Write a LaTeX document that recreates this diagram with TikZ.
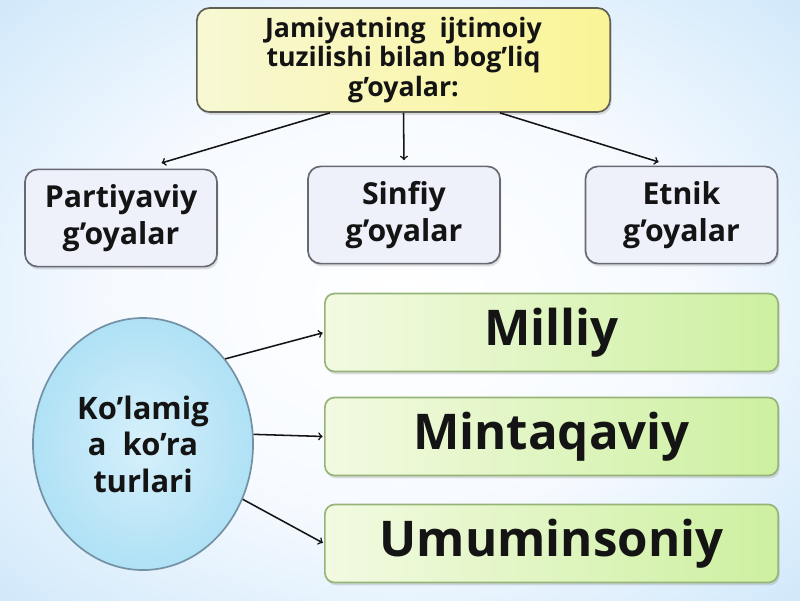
\documentclass[tikz,border=0pt]{standalone}
\usepackage{fontspec}
\setmainfont{Open Sans}
\usetikzlibrary{shapes.geometric,shadows}

\definecolor{bgWhite}{RGB}{246,250,255}
\definecolor{bgBlue}{RGB}{178,218,246}
\definecolor{bgBlueDeep}{RGB}{150,202,242}
\definecolor{titleLight}{RGB}{248,248,212}
\definecolor{titleDeep}{RGB}{250,244,150}
\definecolor{titleLine}{RGB}{95,95,85}
\definecolor{ideaFill}{RGB}{238,240,250}
\definecolor{ideaLine}{RGB}{105,105,115}
\definecolor{circleLight}{RGB}{215,240,251}
\definecolor{circleDeep}{RGB}{175,225,245}
\definecolor{circleLine}{RGB}{115,145,165}
\definecolor{kindLight}{RGB}{242,250,225}
\definecolor{kindDeep}{RGB}{205,240,160}
\definecolor{kindLine}{RGB}{150,180,120}
\definecolor{inkColor}{RGB}{20,20,20}

\pgfdeclareradialshading{backShade}{\pgfpoint{0bp}{0bp}}{%
  color(0bp)=(white); color(18bp)=(bgWhite); color(50bp)=(bgBlue); color(72bp)=(bgBlueDeep)}

\begin{document}
\begin{tikzpicture}[%%
  x=0.025cm,y=-0.025cm,%%
  titleBox/.style={rectangle,rounded corners=9pt,draw=titleLine,line width=1.2pt,
    left color=titleLight,right color=titleDeep,
    minimum width=10.33cm,minimum height=2.6cm,align=center,text=inkColor,
    font=\fontsize{19}{21}\selectfont\bfseries,
    drop shadow={opacity=0.25,shadow xshift=1pt,shadow yshift=-2pt}},%%
  ideaBox/.style={rectangle,rounded corners=9pt,draw=ideaLine,line width=1.2pt,
    fill=ideaFill,minimum width=4.8cm,minimum height=2.43cm,align=center,
    text=inkColor,font=\fontsize{21.5}{26}\selectfont\bfseries,
    drop shadow={opacity=0.25,shadow xshift=1pt,shadow yshift=-2pt}},%%
  scopeCircle/.style={ellipse,draw=circleLine,line width=1.2pt,
    inner color=circleLight,outer color=circleDeep,
    minimum width=5.5cm,minimum height=6.3cm,align=center,text=inkColor,
    font=\fontsize{22}{26}\selectfont\bfseries},%%
  kindBox/.style={rectangle,rounded corners=7pt,draw=kindLine,line width=1.2pt,
    left color=kindLight,right color=kindDeep,
    minimum width=11.33cm,minimum height=1.95cm,text=inkColor,
    font=\fontsize{35}{40}\selectfont\bfseries,
    drop shadow={opacity=0.25,shadow xshift=1pt,shadow yshift=-2pt}},%%
  arrowStyle/.style={->,line width=1.1pt,draw=inkColor,>=to,shorten >=1pt}
]
%%
%%
%% Background.
\path[shading=backShade] (0,0) rectangle (800,600);
\useasboundingbox (0,0) rectangle (800,600);
%%
%% Title and the three kinds of ideas.
\node[titleBox] (title) at (403.5,60) {Jamiyatning\ \ ijtimoiy\\tuzilishi bilan bog’liq\\g’oyalar:};
\node[ideaBox] (party) at (121,218) {Partiyaviy\\g’oyalar};
\node[ideaBox] (class) at (404,215) {Sinfiy\\g’oyalar};
\node[ideaBox] (ethnic) at (681.5,215) {Etnik\\g’oyalar};
%%
%% Circle and the three scopes.
\node[scopeCircle] (scope) at (143,444) {Ko’lamig\\a\ \ ko’ra\\turlari};
\node[kindBox] (national) at (551.5,332.5) {Milliy};
\node[kindBox] (regional) at (551.5,436.5) {Mintaqaviy};
\node[kindBox] (universal) at (551.5,543.5) {Umuminsoniy};
%%
%% Arrows from the title.
\draw[arrowStyle] ([xshift=-1.84cm]title.south) -- ([xshift=0.98cm,yshift=0.13cm]party.north);
\draw[arrowStyle] (title.south) -- ([yshift=0.1cm]class.north);
\draw[arrowStyle] ([xshift=2.41cm]title.south) -- ([xshift=-0.54cm,yshift=0.08cm]ethnic.north);
%%
%% Arrows from the circle.
\draw[arrowStyle] (scope.46) -- (national.west);
\draw[arrowStyle] (scope.5) -- (regional.west);
\draw[arrowStyle] (scope.-29) -- (universal.west);
\end{tikzpicture}
\end{document}
